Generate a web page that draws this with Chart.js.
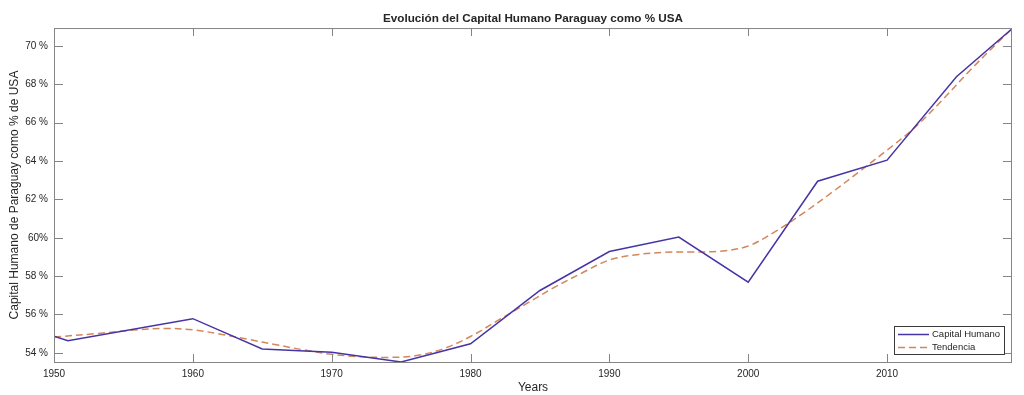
<!DOCTYPE html>
<html>
<head>
<meta charset="utf-8">
<title>Evolución del Capital Humano Paraguay como % USA</title>
<script src="https://cdn.jsdelivr.net/npm/chart.js@4/dist/chart.umd.min.js"></script>
<style>
    html, body { margin: 0; padding: 0; background: #fff; }
    #wrap { position: relative; width: 1024px; height: 395px; }
</style>
</head>
<body>
<div id="wrap"><canvas id="chart"></canvas></div>
<script>
// Capital Humano de Paraguay como % de USA

const capitalYears = [1950, 1951, 1960, 1965, 1970, 1975, 1980, 1985, 1990, 1995, 2000, 2005, 2010, 2015, 2019];
const capitalValues = [54.87, 54.63, 55.78, 54.2, 54.03, 53.52, 54.47, 57.25, 59.28, 60.04, 57.68, 62.95, 64.05, 68.4, 70.9];

const trendYears = [1950, 1953, 1956, 1958, 1960, 1962, 1964, 1966, 1968, 1970, 1972, 1974, 1976, 1978, 1980,
    1982, 1984, 1986, 1988, 1990, 1992, 1994, 1996, 1998, 2000, 2002, 2004, 2006, 2008, 2010, 2012, 2014, 2016, 2018, 2019];
const trendValues = [54.82, 55.0, 55.2, 55.27, 55.2, 54.97, 54.7, 54.42, 54.15, 53.92, 53.8, 53.76, 53.84, 54.2, 54.85,
    55.7, 56.55, 57.4, 58.15, 58.84, 59.12, 59.24, 59.26, 59.3, 59.57, 60.35, 61.3, 62.35, 63.45, 64.57, 65.75, 67.2, 68.75, 70.2, 70.9];

const xTicks = [1950, 1960, 1970, 1980, 1990, 2000, 2010];
const yTicks = [54, 56, 58, 60, 62, 64, 66, 68, 70];
const yTickLabels = ['54 %', '56 %', '58 %', '60%', '62 %', '64 %', '66 %', '68 %', '70 %'];

const seriesNames = ['Capital Humano', 'Tendencia'];

const FONT = '"Liberation Sans", Arial, Helvetica, sans-serif';
const TEXT = '#262626';
const AXIS = '#858585';

// MATLAB style box, inward ticks and legend inside the axes
const matlabBox = {
    id: 'matlabBox',
    afterDraw(chart) {
        const { ctx, chartArea: a, scales } = chart;
        const x = scales.x, y = scales.y;
        ctx.save();
        ctx.strokeStyle = AXIS;
        ctx.lineWidth = 1;
        ctx.strokeRect(a.left + 0.5, a.top + 0.5, a.right - a.left - 1, a.bottom - a.top);

        ctx.beginPath();
        xTicks.forEach(v => {
            const px = Math.round(x.getPixelForValue(v)) + 0.5;
            ctx.moveTo(px, a.bottom); ctx.lineTo(px, a.bottom - 8);
            ctx.moveTo(px, a.top); ctx.lineTo(px, a.top + 8);
        });
        yTicks.forEach(v => {
            const py = Math.round(y.getPixelForValue(v)) + 0.5;
            ctx.moveTo(a.left, py); ctx.lineTo(a.left + 9, py);
            ctx.moveTo(a.right, py); ctx.lineTo(a.right - 9, py);
        });
        ctx.stroke();

        // legend
        const lx = a.right - 118, ly = a.bottom - 36, lw = 110, lh = 28;
        ctx.fillStyle = '#fff';
        ctx.fillRect(lx, ly, lw, lh);
        ctx.strokeStyle = '#3a3a3a';
        ctx.strokeRect(lx + 0.5, ly + 0.5, lw, lh);
        ctx.font = '9.5px ' + FONT;
        ctx.textBaseline = 'middle';
        chart.data.datasets.forEach((ds, i) => {
            const ry = ly + 8.5 + i * 13;
            ctx.strokeStyle = ds.borderColor;
            ctx.lineWidth = 1.5;
            ctx.setLineDash(ds.borderDash || []);
            ctx.beginPath();
            ctx.moveTo(lx + 4, ry); ctx.lineTo(lx + 35, ry);
            ctx.stroke();
            ctx.setLineDash([]);
            ctx.fillStyle = TEXT;
            ctx.fillText(ds.label, lx + 38, ry);
        });
        ctx.restore();
    }
};

const toPoints = (xs, ys) => xs.map((v, i) => ({ x: v, y: ys[i] }));

new Chart(document.getElementById('chart').getContext('2d'), {
    type: 'line',
    data: {
        datasets: [{
            label: seriesNames[0],
            data: toPoints(capitalYears, capitalValues),
            borderColor: '#4634a6',
            borderWidth: 1.5,
            pointRadius: 0,
            tension: 0,
            fill: false
        }, {
            label: seriesNames[1],
            data: toPoints(trendYears, trendValues),
            borderColor: '#d4875a',
            borderWidth: 1.5,
            borderDash: [7, 4],
            pointRadius: 0,
            tension: 0.35,
            fill: false
        }]
    },
    options: {
        responsive: true,
        maintainAspectRatio: false,
        animation: false,
        layout: { padding: { left: 0, right: 12, top: 0, bottom: 0 } },
        plugins: {
            legend: { display: false },
            tooltip: { enabled: false },
            title: {
                display: true,
                fullSize: false,
                text: 'Evolución del Capital Humano Paraguay como % USA',
                color: TEXT,
                font: { family: FONT, size: 11.7, weight: 'bold', lineHeight: 1.2 },
                padding: { top: 12, bottom: 2 }
            }
        },
        scales: {
            x: {
                type: 'linear',
                min: 1950,
                max: 2019,
                afterFit: s => { s.height = 33; },
                afterBuildTicks: s => { s.ticks = xTicks.map(v => ({ value: v })); },
                grid: { display: false, drawTicks: false },
                border: { display: false },
                ticks: {
                    color: TEXT,
                    padding: 6,
                    maxRotation: 0,
                    font: { family: FONT, size: 10 },
                    callback: v => String(v)
                },
                title: {
                    display: true,
                    text: 'Years',
                    color: TEXT,
                    font: { family: FONT, size: 12 },
                    padding: { top: 0, bottom: 0 }
                }
            },
            y: {
                min: 53.52,
                max: 70.94,
                afterFit: s => { s.width = 54; },
                afterBuildTicks: s => { s.ticks = yTicks.map(v => ({ value: v })); },
                grid: { display: false, drawTicks: false },
                border: { display: false },
                ticks: {
                    color: TEXT,
                    padding: 6,
                    font: { family: FONT, size: 10 },
                    callback: v => yTickLabels[yTicks.indexOf(v)]
                },
                title: {
                    display: true,
                    text: 'Capital Humano de Paraguay como % de USA',
                    color: TEXT,
                    font: { family: FONT, size: 12 },
                    padding: { top: 7, bottom: 0 }
                }
            }
        }
    },
    plugins: [matlabBox]
});
</script>
</body>
</html>
